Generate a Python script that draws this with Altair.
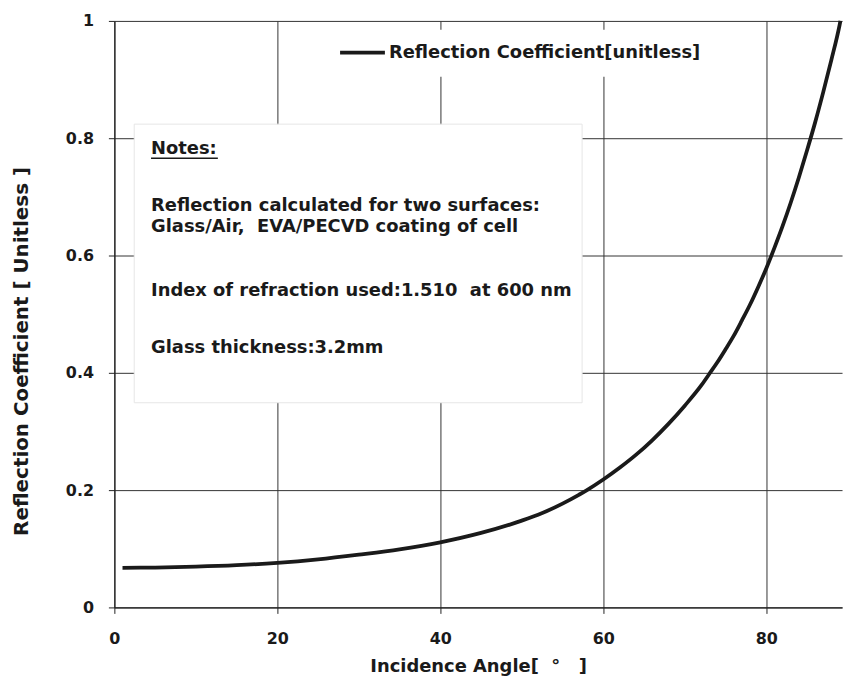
import altair as alt
import pandas as pd

# ---- data ----
angle = [1, 5, 10, 15, 20, 25, 30, 35, 40, 45, 50, 52, 55, 57, 58, 60, 62, 64,
         66, 68, 70, 72, 73, 74, 75, 76, 77, 78, 79, 80, 81, 82, 83, 84, 85,
         86, 87, 88, 89, 89.1]
reflection = [0.0675, 0.068, 0.0695, 0.072, 0.076, 0.082, 0.090, 0.099, 0.111,
              0.127, 0.148, 0.158, 0.177, 0.192, 0.200, 0.218, 0.238, 0.260,
              0.285, 0.313, 0.344, 0.378, 0.398, 0.418, 0.440, 0.463, 0.489,
              0.516, 0.546, 0.578, 0.613, 0.650, 0.690, 0.733, 0.779, 0.827,
              0.879, 0.934, 0.993, 1.000]

x_ticks = [0, 20, 40, 60, 80]
y_ticks = [0, 0.2, 0.4, 0.6, 0.8, 1.0]

NB = "\u00a0"
series_name = "Reflection Coefficient[unitless]"
x_title = "Incidence Angle[" + NB * 2 + "°" + NB * 3 + "]"
y_title = "Reflection Coefficient [ Unitless ]"
notes_lines = [
    "Notes:",
    "Reflection calculated for two surfaces:",
    "Glass/Air," + NB * 2 + "EVA/PECVD coating of cell",
    "Index of refraction used:1.510" + NB * 2 + "at 600 nm",
    "Glass thickness:3.2mm",
]
# annotation anchor positions in data units (degrees, coefficient)
notes_x = [4.5, 4.5, 4.5, 4.5, 4.5]
notes_y = [0.781, 0.685, 0.649, 0.539, 0.442]

FONT = "DejaVu Sans"
INK = "#1a1a1a"

df = pd.DataFrame({"angle": angle, "refl": reflection})

xs = alt.Scale(domain=[0, 89.3], nice=False, zero=False)
ys = alt.Scale(domain=[0, 1], nice=False)

line = alt.Chart(df).mark_line(color=INK, strokeWidth=3.8, interpolate="monotone").encode(
    x=alt.X("angle:Q", scale=xs,
            axis=alt.Axis(values=x_ticks, title=x_title, labelFlush=False,
                          format="d", labelPadding=17, titlePadding=11, titleFontSize=18)),
    y=alt.Y("refl:Q", scale=ys,
            axis=alt.Axis(values=y_ticks, title=y_title,
                          format=".1~f", labelPadding=15, titleFontSize=20,
                          titleBaseline="middle", titleX=-93, titleY=332)),
)

notes_box_df = pd.DataFrame({"x": [2.44], "x2": [57.4], "y": [0.824], "y2": [0.349]})
notes_box = alt.Chart(notes_box_df).mark_rect(fill="white", stroke="#e6e6e6", strokeWidth=1).encode(
    x=alt.X("x:Q", scale=xs), x2="x2:Q", y=alt.Y("y:Q", scale=ys), y2="y2:Q")

legend_box_df = pd.DataFrame({"x": [26.2], "x2": [74.5], "y": [0.985], "y2": [0.905]})
legend_box = alt.Chart(legend_box_df).mark_rect(fill="white", strokeWidth=0).encode(
    x=alt.X("x:Q", scale=xs), x2="x2:Q", y=alt.Y("y:Q", scale=ys), y2="y2:Q")

legend_line_df = pd.DataFrame({"x": [27.7], "x2": [33.2], "y": [0.946]})
legend_line = alt.Chart(legend_line_df).mark_rule(color=INK, strokeWidth=3.8).encode(
    x=alt.X("x:Q", scale=xs), x2="x2:Q", y=alt.Y("y:Q", scale=ys))

legend_text_df = pd.DataFrame({"x": [33.7], "y": [0.946], "t": [series_name]})
legend_text = alt.Chart(legend_text_df).mark_text(
    align="left", baseline="middle", font=FONT, fontWeight="bold", fontSize=18, color=INK
).encode(x=alt.X("x:Q", scale=xs), y=alt.Y("y:Q", scale=ys), text="t:N")

notes_df = pd.DataFrame({"x": notes_x, "y": notes_y, "t": notes_lines})
notes_text = alt.Chart(notes_df).mark_text(
    align="left", baseline="middle", font=FONT, fontWeight="bold", fontSize=18, color=INK
).encode(x=alt.X("x:Q", scale=xs), y=alt.Y("y:Q", scale=ys), text="t:N")

underline_df = pd.DataFrame({"x": [4.5], "x2": [12.7], "y": [0.766]})
underline = alt.Chart(underline_df).mark_rule(color=INK, strokeWidth=1.5).encode(
    x=alt.X("x:Q", scale=xs), x2="x2:Q", y=alt.Y("y:Q", scale=ys))

chart = alt.layer(
    line, notes_box, legend_box, legend_line, legend_text, notes_text, underline
).properties(
    width=732, height=590,
    padding={"left": 4, "top": 3, "right": 0, "bottom": 0},
).configure_view(
    stroke=None
).configure_axis(
    domainColor="#222222", domainWidth=1.2, tickColor="#222222", gridColor="#333333",
    gridWidth=1, grid=True, tickSize=6, labelFont=FONT, labelFontWeight="bold",
    labelFontSize=16, labelColor=INK, titleFont=FONT, titleFontWeight="bold",
    titleColor=INK,
)

chart.save("out.html", embed_options={"renderer": "svg", "actions": False})
